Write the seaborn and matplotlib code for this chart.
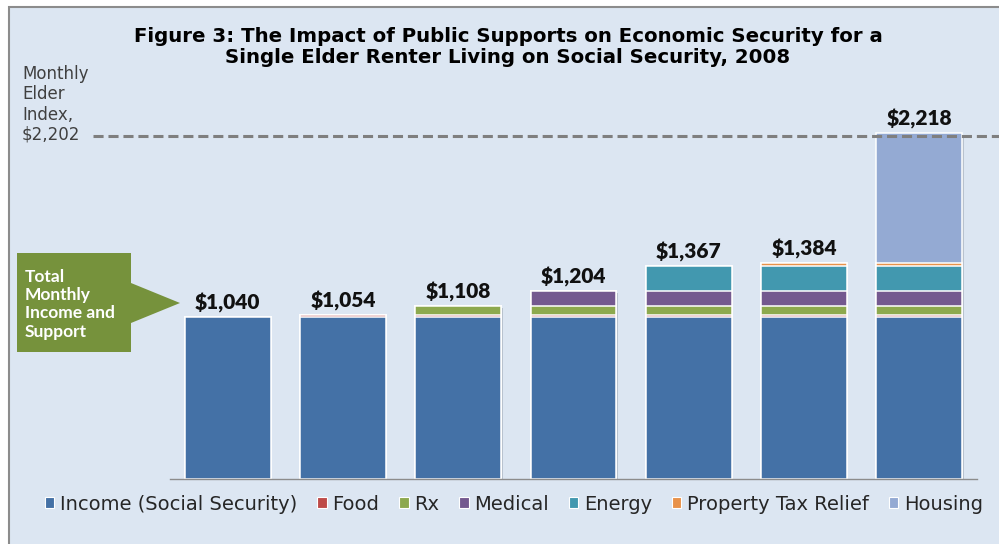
import matplotlib

matplotlib.use("Agg")

import matplotlib.patheffects as pe
import matplotlib.pyplot as plt
import pandas as pd
import seaborn as sns
from matplotlib.patches import Patch, Polygon, Rectangle

# scenario for each bar, left to right (each one adds one more support)
scenarios = [
    "Social Security only",
    "+ Food",
    "+ Rx",
    "+ Medical",
    "+ Energy",
    "+ Property Tax Relief",
    "+ Housing",
]
income = [1040, 1040, 1040, 1040, 1040, 1040, 1040]
food = [0, 14, 14, 14, 14, 14, 14]
rx = [0, 0, 54, 54, 54, 54, 54]
medical = [0, 0, 0, 96, 96, 96, 96]
energy = [0, 0, 0, 0, 163, 163, 163]
property_tax = [0, 0, 0, 0, 0, 17, 17]
housing = [0, 0, 0, 0, 0, 0, 834]
elder_index = 2202

segment_names = ["Income (Social Security)", "Food", "Rx", "Medical", "Energy", "Property Tax Relief", "Housing"]
segment_colors = ["#4471A6", "#BE4B48", "#8DA94E", "#74598F", "#4298AF", "#E8924A", "#94AAD3"]

W, H = 999, 544


def px(x: float, y: float) -> tuple[float, float]:
    return x / W, 1 - y / H


df = pd.DataFrame(
    dict(zip(segment_names, [income, food, rx, medical, energy, property_tax, housing])),
    index=scenarios,
)
cum = df.cumsum(axis=1)
totals = cum.iloc[:, -1]

sns.set_style("white")
plt.rcParams["font.family"] = ["DejaVu Sans"]

fig = plt.figure(figsize=(W / 100, H / 100), dpi=100)
fig.patch.set_facecolor("white")
fig.patches.append(
    Rectangle(
        (8.5 / W, -0.1), 1.2, 1.1 - 7.5 / H,
        transform=fig.transFigure, facecolor="#DCE6F2", edgecolor="#8C8C8C", lw=1.5, zorder=-10,
    )
)

ax = fig.add_axes([170 / W, 65 / H, 807 / W, 2400 * 0.1558 / H])
ax.set_facecolor("none")

# stacked bars: draw cumulative totals from the top segment down
for i in reversed(range(len(segment_names))):
    n_before = len(ax.patches)
    sns.barplot(
        x=scenarios, y=cum.iloc[:, i].values, color=segment_colors[i], saturation=1,
        width=0.745, edgecolor="white", linewidth=1.1, errorbar=None, ax=ax,
    )
    if i == len(segment_names) - 1:
        for p in ax.patches[n_before:]:
            p.set_path_effects([pe.SimplePatchShadow(offset=(1, -1), alpha=0.2), pe.Normal()])

for i, t in enumerate(totals):
    ax.annotate(
        f"${t:,}", (i, t), xytext=(0, 5.5), textcoords="offset points",
        ha="center", va="baseline", fontsize=15, fontweight="heavy", family=["Lato", "DejaVu Sans"],
        color="#111111",
    )

ax.axhline(elder_index, xmin=-0.095, xmax=1.03, clip_on=False, color="#7F7F7F", lw=2.2, dashes=(3.3, 1.6))

ax.set_xlim(-0.5, len(scenarios) - 0.5)
ax.set_ylim(0, 2400)
ax.set_xlabel("")
ax.set_ylabel("")
ax.tick_params(length=0, labelbottom=False, labelleft=False)
for side in ["top", "left", "right"]:
    ax.spines[side].set_visible(False)
ax.spines["bottom"].set_color("#8C8C8C")
ax.spines["bottom"].set_linewidth(1.0)

# multiline text with va="baseline" is anchored on the last line's baseline
fig.text(
    *px(508, 63.3),
    "Figure 3: The Impact of Public Supports on Economic Security for a\n"
    "Single Elder Renter Living on Social Security, 2008",
    ha="center", va="baseline", multialignment="center", fontsize=14.2, fontweight="bold",
    linespacing=1.12, color="black",
)

fig.text(
    *px(22, 140), "Monthly\nElder\nIndex,\n$2,202",
    ha="left", va="baseline", fontsize=12, color="#404040", linespacing=1.17,
)

callout = [(17, 253), (131, 253), (131, 283), (180, 303), (131, 323), (131, 352), (17, 352)]
fig.patches.append(
    Polygon([px(x, y) for x, y in callout], closed=True, transform=fig.transFigure,
            facecolor="#76923C", edgecolor="none", zorder=5)
)
fig.text(
    *px(25, 336.7), "Total\nMonthly\nIncome and\nSupport",
    ha="left", va="baseline", fontsize=12.5, fontweight="bold", family=["Lato", "DejaVu Sans"],
    color="white", linespacing=1.18, zorder=6,
)

handles = [Patch(facecolor=c, edgecolor="white", lw=0.8) for c in segment_colors]
fig.legend(
    handles, segment_names, loc="center", bbox_to_anchor=(0.5145, 1 - 504 / H), ncol=7,
    frameon=False, fontsize=14, handlelength=0.5, handleheight=0.5, handletextpad=0.3,
    columnspacing=1.0, borderaxespad=0,
)

fig.savefig("out.png", dpi=100)
